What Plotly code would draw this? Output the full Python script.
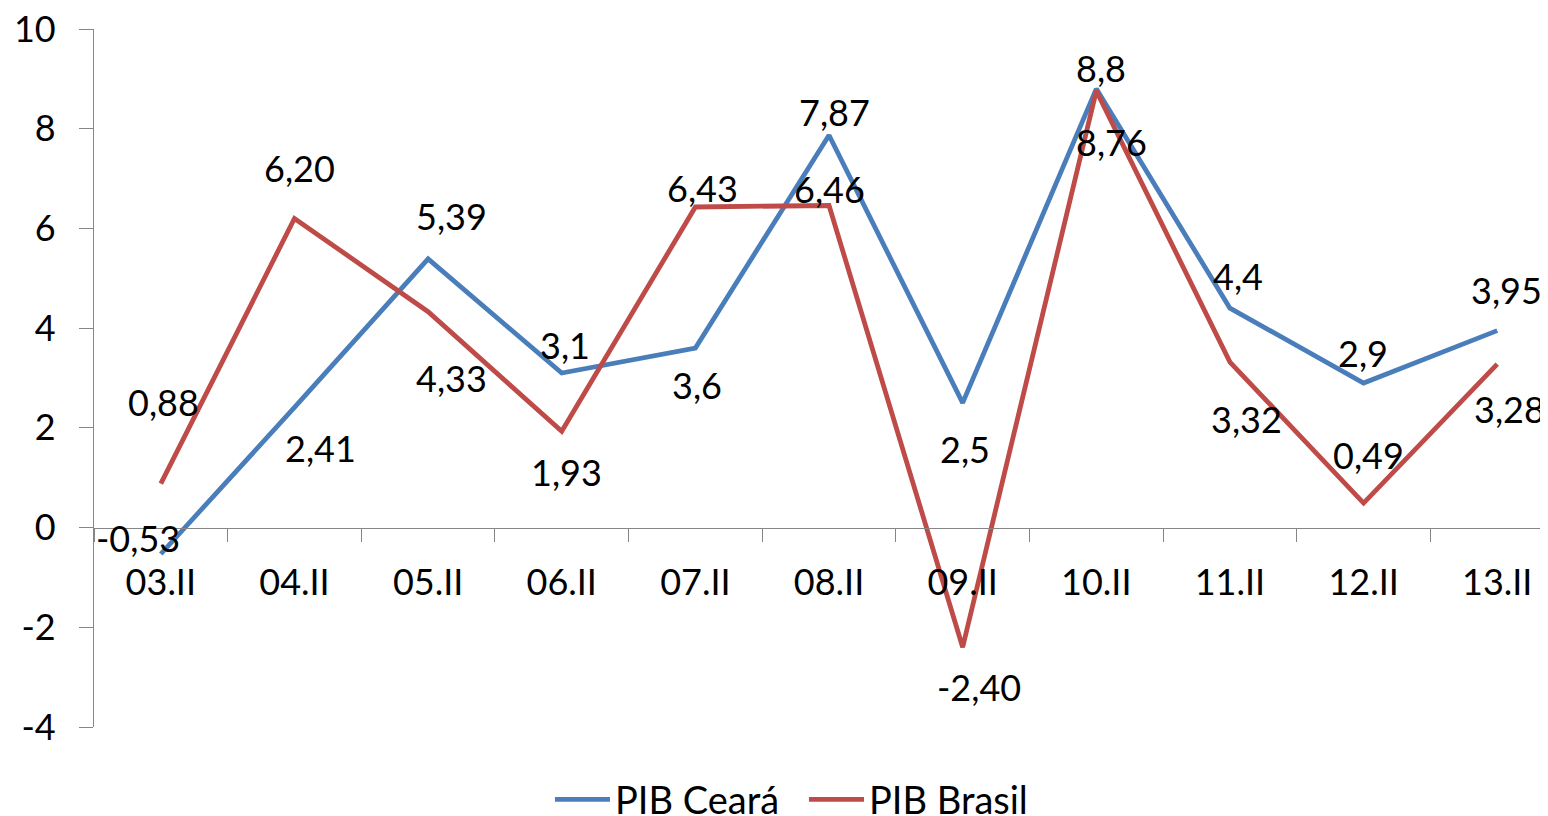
import plotly.graph_objects as go

categories = ["03.II", "04.II", "05.II", "06.II", "07.II", "08.II", "09.II", "10.II", "11.II", "12.II", "13.II"]
pib_ceara = [-0.53, 2.41, 5.39, 3.1, 3.6, 7.87, 2.5, 8.8, 4.4, 2.9, 3.95]
pib_brasil = [0.88, 6.20, 4.33, 1.93, 6.43, 6.46, -2.40, 8.76, 3.32, 0.49, 3.28]
ceara_labels = ["-0,53", "2,41", "5,39", "3,1", "3,6", "7,87", "2,5", "8,8", "4,4", "2,9", "3,95"]
brasil_labels = ["0,88", "6,20", "4,33", "1,93", "6,43", "6,46", "-2,40", "8,76", "3,32", "0,49", "3,28"]
y_tick_vals = [-4, -2, 0, 2, 4, 6, 8, 10]
y_tick_text = ["-4", "-2", "0", "2", "4", "6", "8", "10"]

# label offsets in screen pixels (dx right, dy down)
ceara_offsets = [(-23, -16), (26, 41), (23, -43), (3, -28), (2, 37), (5, -23),
                 (2, 46), (5, -21), (8, -32), (-1, -30), (9, -41)]
brasil_offsets = [(3, -82), (5, -50), (23, 66), (5, 41), (7, -19), (0, -16),
                  (16, 40), (15, 51), (17, 57), (5, -48), (12, 45)]

BLUE = "#4A7EBB"
RED = "#BE4B48"
AXIS = "#868686"
FONT = "Lato"
FS = 36

fig = go.Figure()
fig.add_trace(go.Scatter(x=categories, y=pib_ceara, mode="lines", name="PIB Ceará",
                         line=dict(color=BLUE, width=4.8)))
fig.add_trace(go.Scatter(x=categories, y=pib_brasil, mode="lines", name="PIB Brasil",
                         line=dict(color=RED, width=4.8)))

annotations = []
for cats, vals, labs, offs in [(categories, pib_ceara, ceara_labels, ceara_offsets),
                               (categories, pib_brasil, brasil_labels, brasil_offsets)]:
    for c, v, t, (dx, dy) in zip(cats, vals, labs, offs):
        annotations.append(dict(x=c, y=v, xref="x", yref="y", text=t, showarrow=False,
                                xanchor="center", yanchor="middle",
                                xshift=dx, yshift=-dy,
                                font=dict(family=FONT, size=FS, color="black")))

fig.update_layout(
    width=1540, height=808,
    margin=dict(l=86, r=0, t=21, b=89, autoexpand=False),
    paper_bgcolor="white", plot_bgcolor="white",
    font=dict(family=FONT, size=FS, color="black"),
    showlegend=True,
    legend=dict(orientation="h", x=0.3136, xanchor="left", y=-0.104, yanchor="middle",
                itemwidth=55, entrywidth=184,
                font=dict(family=FONT, size=38, color="black"),
                bgcolor="rgba(0,0,0,0)"),
    annotations=annotations,
    xaxis=dict(type="category", categoryorder="array", categoryarray=categories,
               range=[-0.5, 10.38], showgrid=False, zeroline=False,
               showline=True, linecolor=AXIS, linewidth=1.3,
               ticks="outside", tickson="boundaries", ticklen=13, tickcolor=AXIS, tickwidth=1.3,
               anchor="free", position=4 / 14, ticklabelstandoff=23,
               ticklabeloverflow="allow",
               tickfont=dict(family=FONT, size=FS, color="black")),
    yaxis=dict(range=[-4, 10], tickvals=y_tick_vals, ticktext=y_tick_text,
               showgrid=False, zeroline=False,
               showline=True, linecolor=AXIS, linewidth=1.3,
               ticks="outside", ticklen=14, tickcolor=AXIS, tickwidth=1.3,
               ticklabelstandoff=16, ticklabeloverflow="allow",
               tickfont=dict(family=FONT, size=FS, color="black")),
)

fig.write_html("out.html")
